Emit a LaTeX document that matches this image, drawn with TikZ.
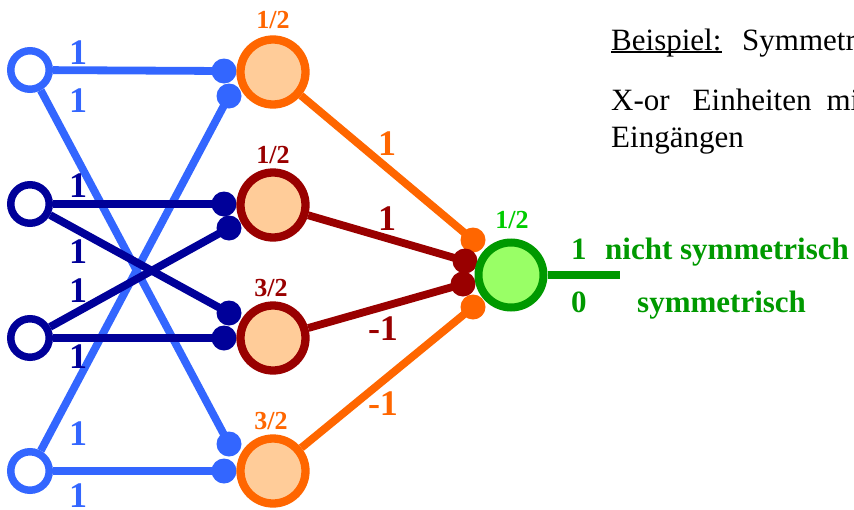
\documentclass[tikz,border=0pt]{standalone}
\usepackage{fontspec}
\setmainfont{Liberation Serif}
\usetikzlibrary{backgrounds}
\definecolor{lb}{RGB}{51,102,255}
\definecolor{db}{RGB}{0,0,153}
\definecolor{orng}{RGB}{255,102,0}
\definecolor{dr}{RGB}{153,0,0}
\definecolor{peach}{RGB}{255,204,153}
\definecolor{gr}{RGB}{0,153,0}
\definecolor{lgr}{RGB}{153,255,102}
\definecolor{bgr}{RGB}{0,204,0}
\begin{document}
\begin{tikzpicture}[x=1pt,y=-1pt,
  inp/.style={circle, draw=#1, fill=white, line width=7.5pt, minimum size=38.5pt, inner sep=0pt},
  hid/.style={circle, draw=#1, fill=peach, line width=8.3pt, minimum size=65pt, inner sep=0pt},
  outn/.style={circle, draw=gr, fill=lgr, line width=8pt, minimum size=65pt, inner sep=0pt},
  syn/.style={circle, fill=#1, minimum size=25pt, inner sep=0pt},
  wire/.style={draw=#1, line width=7.8pt},
  wlab/.style={font=\fontsize{36}{36}\selectfont\bfseries, text=#1, anchor=base, inner sep=0pt},
  thr/.style={font=\fontsize{26}{26}\selectfont\bfseries, text=#1, anchor=base, inner sep=0pt},
  olab/.style={font=\fontsize{31}{31}\selectfont\bfseries, text=gr, anchor=base west, inner sep=0pt},
  txt/.style={font=\fontsize{31}{31}\selectfont, anchor=base west, inner sep=0pt}]
\useasboundingbox (0,0) rectangle (854,509);

% synapse dots at hidden units
\node[syn=lb] (s1a) at (224,71) {};
\node[syn=lb] (s1b) at (229,96) {};
\node[syn=db] (s2a) at (224,204) {};
\node[syn=db] (s2b) at (229,228) {};
\node[syn=db] (s3a) at (229,313) {};
\node[syn=db] (s3b) at (224,338) {};
\node[syn=lb] (s4a) at (229,444) {};
\node[syn=lb] (s4b) at (224,471) {};
% synapse dots at output unit
\node[syn=orng] (o1) at (473,240) {};
\node[syn=dr] (o2) at (465,261) {};
\node[syn=dr] (o3) at (463,284) {};
\node[syn=orng] (o4) at (473,307) {};

% units
\node[inp=lb] (i1) at (30,70) {};
\node[inp=db] (i2) at (30,204) {};
\node[inp=db] (i3) at (30,338) {};
\node[inp=lb] (i4) at (30,471) {};
\node[hid=orng] (h1) at (273,72) {};
\node[hid=dr] (h2) at (273,205) {};
\node[hid=dr] (h3) at (273,338) {};
\node[hid=orng] (h4) at (273,471) {};
\node[outn] (out) at (511,275) {};
\coordinate (oe) at (620,275);

\begin{pgfonlayer}{background}
\draw[wire=lb] (i1) -- (s1a.center);
\draw[wire=lb] (i1) -- (s4a.center);
\draw[wire=lb] (i4) -- (s4b.center);
\draw[wire=lb] (i4) -- (s1b.center);
\draw[wire=db] (i2) -- (s2a.center);
\draw[wire=db] (i2) -- (s3a.center);
\draw[wire=db] (i3) -- (s3b.center);
\draw[wire=db] (i3) -- (s2b.center);
\draw[wire=orng] (h1) -- (o1.center);
\draw[wire=dr] (h2) -- (o2.center);
\draw[wire=dr] (h3) -- (o3.center);
\draw[wire=orng] (h4) -- (o4.center);
\end{pgfonlayer}
\draw[wire=gr] (out) -- (oe);

% input weights
\node[wlab=lb] (w1) at (78,64) {1};
\node[wlab=lb] (w2) at (78,112) {1};
\node[wlab=db] (w3) at (78,197) {1};
\node[wlab=db] (w4) at (78,263) {1};
\node[wlab=db] (w5) at (78,302) {1};
\node[wlab=db] (w6) at (78,368) {1};
\node[wlab=lb] (w7) at (78,445) {1};
\node[wlab=lb] (w8) at (78,507) {1};
% hidden to output weights
\node[wlab=orng] (v1) at (387,155) {1};
\node[wlab=dr] (v2) at (387,230) {1};
\node[wlab=dr] (v3) at (383,340) {-1};
\node[wlab=orng] (v4) at (383,415) {-1};
% thresholds
\node[thr=orng] (t1) at (273,28) {1/2};
\node[thr=dr] (t2) at (273,163) {1/2};
\node[thr=dr] (t3) at (271,296) {3/2};
\node[thr=orng] (t4) at (271,429) {3/2};
\node[thr=bgr] (t5) at (512,228) {1/2};
% output labels
\node[olab] (r1) at (571,259) {1};
\node[olab] (r2) at (605,259) {nicht symmetrisch};
\node[olab] (r3) at (571,312) {0};
\node[olab] (r4) at (637,312) {symmetrisch};
% text
\node[txt] (bsp) at (611,50) {Beispiel:};
\draw[line width=2.5pt] ([yshift=-2]bsp.base west) -- ([yshift=-2]bsp.base east);
\node[txt] (sym) at (742,50) {Symmetrie};
\node[txt] (xor) at (611,110) {X-or\hspace{23pt}Einheiten\hspace{15pt}mit};
\node[txt] (ein) at (611,147) {Eingängen};
\end{tikzpicture}
\end{document}
